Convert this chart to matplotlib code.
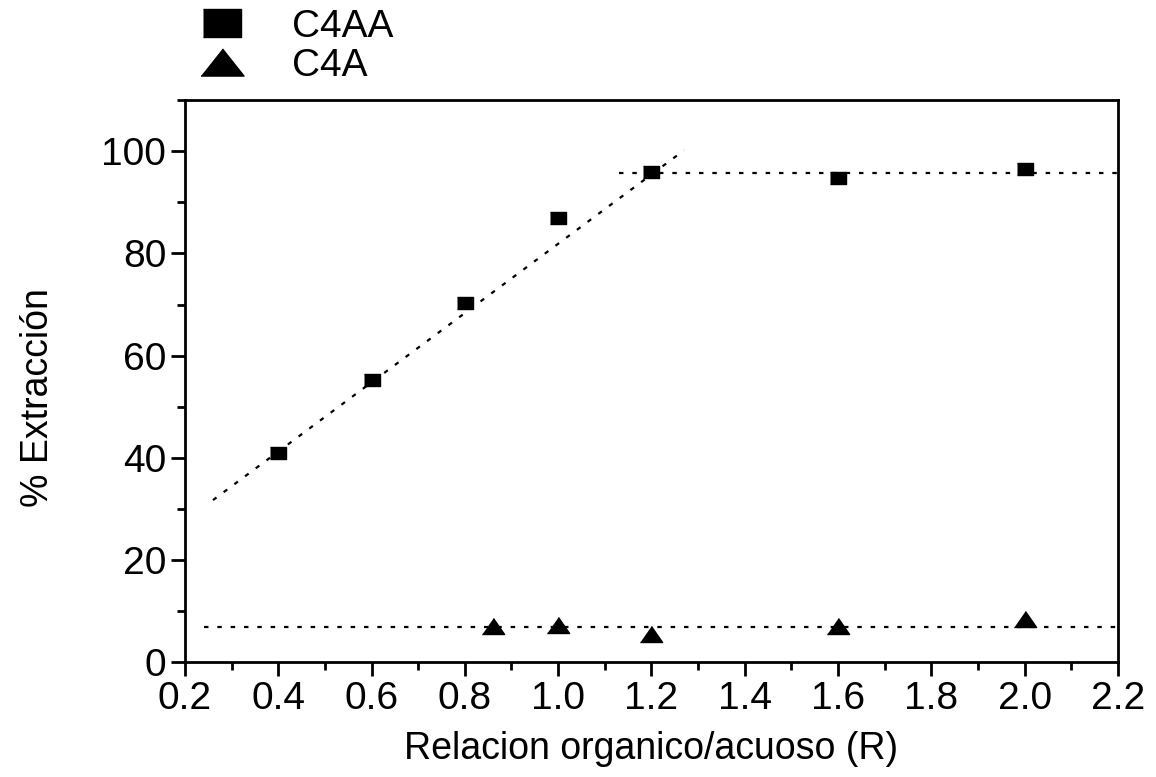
import numpy as np
import matplotlib.pyplot as plt
from matplotlib.lines import Line2D
from matplotlib.ticker import MultipleLocator, FormatStrFormatter

plt.rcParams['font.family'] = ['Liberation Sans', 'DejaVu Sans']

# data
r_c4aa = [0.4, 0.6, 0.8, 1.0, 1.2, 1.6, 2.0]
ext_c4aa = [40.9, 55.2, 70.3, 86.9, 95.9, 94.7, 96.5]
r_c4a = [0.86, 1.0, 1.2, 1.6, 2.0]
ext_c4a = [7.1, 7.2, 5.4, 7.1, 8.5]

# dotted guide lines (end points)
rise_x = [0.26, 1.27]
rise_y = [31.7, 100.2]
plateau_x = [1.13, 2.2]
plateau_y = [95.7, 95.7]
low_x = [0.24, 2.2]
low_y = [6.85, 6.85]

# slightly wide markers, like the original
sq_plot = [(-1, -0.8), (1, -0.8), (1, 0.8), (-1, 0.8)]
tri_plot = [(-1, -0.72), (1, -0.72), (0, 0.72)]
sq_leg = [(-1, -0.71), (1, -0.71), (1, 0.71), (-1, 0.71)]
tri_leg = [(-1, -0.63), (1, -0.63), (0, 0.63)]

fig = plt.figure(figsize=(11.56, 7.77), dpi=100)
ax = fig.add_axes([0.16, 0.148, 0.807, 0.723])

dot = (0, (2, 4))
ax.plot(rise_x, rise_y, color='black', lw=1.6, ls=dot)
ax.plot(plateau_x, plateau_y, color='black', lw=1.6, ls=dot)
ax.plot(low_x, low_y, color='black', lw=1.6, ls=dot)

ax.plot(r_c4aa, ext_c4aa, ls='none', marker=sq_plot, color='black', ms=11.5)
ax.plot(r_c4a, ext_c4a, ls='none', marker=tri_plot, color='black', ms=16)

ax.set_xlim(0.2, 2.2)
ax.set_ylim(0, 110)
ax.xaxis.set_major_locator(MultipleLocator(0.2))
ax.xaxis.set_minor_locator(MultipleLocator(0.1))
ax.xaxis.set_major_formatter(FormatStrFormatter('%.1f'))
ax.yaxis.set_major_locator(MultipleLocator(20))
ax.yaxis.set_minor_locator(MultipleLocator(10))
ax.tick_params(which='major', direction='out', length=10, width=2, labelsize=28)
ax.tick_params(axis='x', which='major', pad=4)
ax.tick_params(which='minor', direction='out', length=6, width=2)
for s in ax.spines.values():
    s.set_linewidth(2)

ax.set_xlabel('Relacion organico/acuoso (R)', fontsize=27, labelpad=10)
ax.set_ylabel('% Extracción', fontsize=27)
ax.yaxis.set_label_coords(-0.138, 0.47)

handles = [Line2D([], [], ls='none', marker=sq_leg, color='black', ms=27.5),
           Line2D([], [], ls='none', marker=tri_leg, color='black', ms=31)]
fig.legend(handles, ['C4AA', 'C4A'], loc='upper left',
           bbox_to_anchor=(0.152, 1.014), frameon=False,
           fontsize=28, handletextpad=1.1, labelspacing=0.08, borderpad=0,
           handlelength=1.4)

plt.savefig('out.png', dpi=100)
